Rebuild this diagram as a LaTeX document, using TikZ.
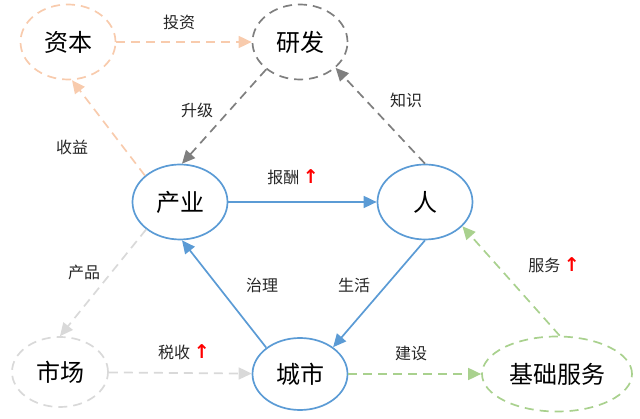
\documentclass[tikz,border=0pt]{standalone}
\usepackage{fontspec}
\setmainfont{Noto Sans CJK SC}
\newfontfamily\arrowfont{DejaVu Sans}
\usetikzlibrary{positioning,arrows.meta,shapes.geometric}
\definecolor{cityblue}{HTML}{5B9BD5}
\definecolor{peach}{HTML}{F8CBAD}
\definecolor{darkgray}{HTML}{7F7F7F}
\definecolor{lightgray}{HTML}{D9D9D9}
\definecolor{softgreen}{HTML}{A9D18E}
\newcommand{\upmark}{\textcolor{red}{\arrowfont\bfseries\fontsize{19}{19}\selectfont ↑}}
\tikzset{
    x=1pt,
    y=-1pt,
    >={Triangle[length=13pt,width=12pt]},
    hub/.style = {
        draw,
        shape=ellipse,
        minimum width=95pt,
        minimum height=75pt,
        inner sep=0pt,
        line width=1.7pt,
        font=\fontsize{24}{28}\selectfont
    },
    dashhub/.style = {
        hub,
        dash pattern=on 9pt off 6pt
    },
    link/.style = {
        line width=1.7pt
    },
    dashlink/.style = {
        line width=1.7pt,
        dash pattern=on 9pt off 6pt
    },
    tag/.style = {
        inner sep=1pt,
        text=black!85,
        font=\fontsize{16}{19}\selectfont
    },
}
\begin{document}
\begin{tikzpicture}
                \useasboundingbox (0,0) rectangle (640,419);

                \node[dashhub, draw=peach] (capital) at (68,42) {资本};
                \node[dashhub, draw=darkgray] (rd) at (300,42) {研发};
                \node[hub, draw=cityblue] (industry) at (180,202) {产业};
                \node[hub, draw=cityblue] (people) at (425,202) {人};
                \node[dashhub, draw=lightgray, minimum width=96pt, minimum height=70pt] (market) at (60,372) {市场};
                \node[hub, draw=cityblue, minimum height=72pt] (city) at (300,374) {城市};
                \node[dashhub, draw=softgreen, minimum width=150pt] (service) at (557,374) {基础服务};

                \path[draw, ->, dashlink, color=peach] (capital) -- (rd);
                \path[draw, ->, dashlink, color=peach] (industry.143) -- (capital.276);
                \path[draw, ->, dashlink, color=darkgray] (rd.219) -- (industry.87);
                \path[draw, ->, dashlink, color=darkgray] (people.90) -- (rd.324);
                \path[draw, ->, link, color=cityblue] (industry) -- (people);
                \path[draw, ->, link, color=cityblue] (people.270) -- (city.39);
                \path[draw, ->, link, color=cityblue] (city.142) -- (industry.273);
                \path[draw, ->, dashlink, color=lightgray] (industry.219) -- (market.90);
                \path[draw, ->, dashlink, color=lightgray] (market) -- (city);
                \path[draw, ->, dashlink, color=softgreen] (city) -- (service);
                \path[draw, ->, dashlink, color=softgreen] (service.86) -- (people.327);

                \node[tag] (invest) at (179,22) {投资};
                \node[tag] (upgrade) at (197,110) {升级};
                \node[tag] (knowledge) at (406,100) {知识};
                \node[tag] (profit) at (72,147) {收益};
                \node[tag] (wage) at (293,177) {报酬 \upmark};
                \node[tag] (product) at (84,272) {产品};
                \node[tag] (govern) at (262,285) {治理};
                \node[tag] (living) at (354,285) {生活};
                \node[tag] (tax) at (184,352) {税收 \upmark};
                \node[tag] (build) at (411,353) {建设};
                \node[tag] (serve) at (554,265) {服务 \upmark};
            \end{tikzpicture}
\end{document}
